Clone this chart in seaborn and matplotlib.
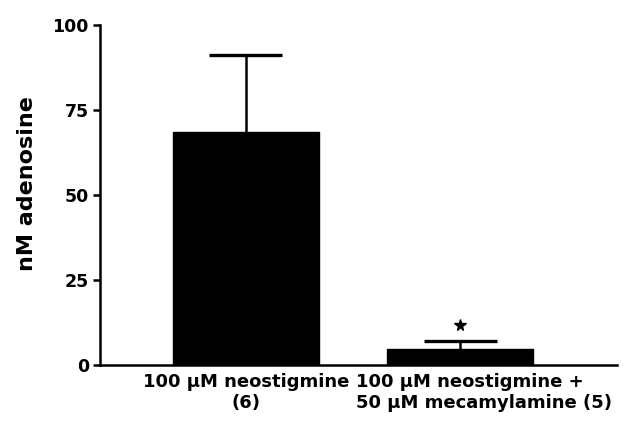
import matplotlib
matplotlib.use("Agg")
import matplotlib.pyplot as plt
import matplotlib.transforms as mtransforms
import seaborn as sns
import pandas as pd

categories = ["100 \u03bcM neostigmine\n(6)", "100 \u03bcM neostigmine +\n50 \u03bcM mecamylamine (5)"]
means = [68.5, 4.6]
sem = [22.6, 2.6]
significance = ["", "*"]
yticks = [0, 25, 50, 75, 100]

sns.set_theme(style="ticks")
plt.rcParams["font.family"] = ["DejaVu Sans"]
plt.rcParams["font.weight"] = "bold"

df = pd.DataFrame({"group": categories, "value": means})

fig = plt.figure(figsize=(6.23, 4.30), dpi=100)
ax = fig.add_axes([0.1605, 0.151, 0.8295, 0.791])

sns.barplot(data=df, x="group", y="value", color="black", width=0.68,
            errorbar=None, ax=ax, saturation=1, edgecolor="black")

xs = list(range(len(categories)))
tops = [m + s for m, s in zip(means, sem)]
ax.vlines(xs, means, tops, color="black", linewidth=1.8)
cap_half = 0.17
ax.hlines(tops, [x - cap_half for x in xs], [x + cap_half for x in xs],
          color="black", linewidth=2.4)

for x, t, sig in zip(xs, tops, significance):
    if sig:
        ax.plot([x], [t + 4.7], marker="*", color="black",
                markersize=8.5, linestyle="none")

ax.set_xlim(-0.68, 1.73)
ax.set_ylim(0, 100)
ax.set_yticks(yticks)
ax.set_yticklabels([str(t) for t in yticks], fontsize=12.5, fontweight="bold")
ax.set_xticks(xs)
ax.set_xticklabels(categories, fontsize=13, fontweight="bold")
ax.set_xlabel("")
ax.set_ylabel("nM adenosine", fontsize=16, fontweight="bold", color="black")
ax.yaxis.set_label_coords(-0.122, 0.535)

sns.despine(ax=ax)
for sp in ["left", "bottom"]:
    ax.spines[sp].set_linewidth(1.8)
    ax.spines[sp].set_color("black")
ax.tick_params(axis="y", length=5, width=1.8, pad=3, colors="black")
ax.tick_params(axis="x", length=0, pad=6, colors="black")

labels = ax.get_xticklabels()
labels[1].set_multialignment("left")
labels[1].set_transform(labels[1].get_transform() +
                        mtransforms.ScaledTranslation(24 / 100, 0, fig.dpi_scale_trans))

fig.savefig("out.png", dpi=100)
